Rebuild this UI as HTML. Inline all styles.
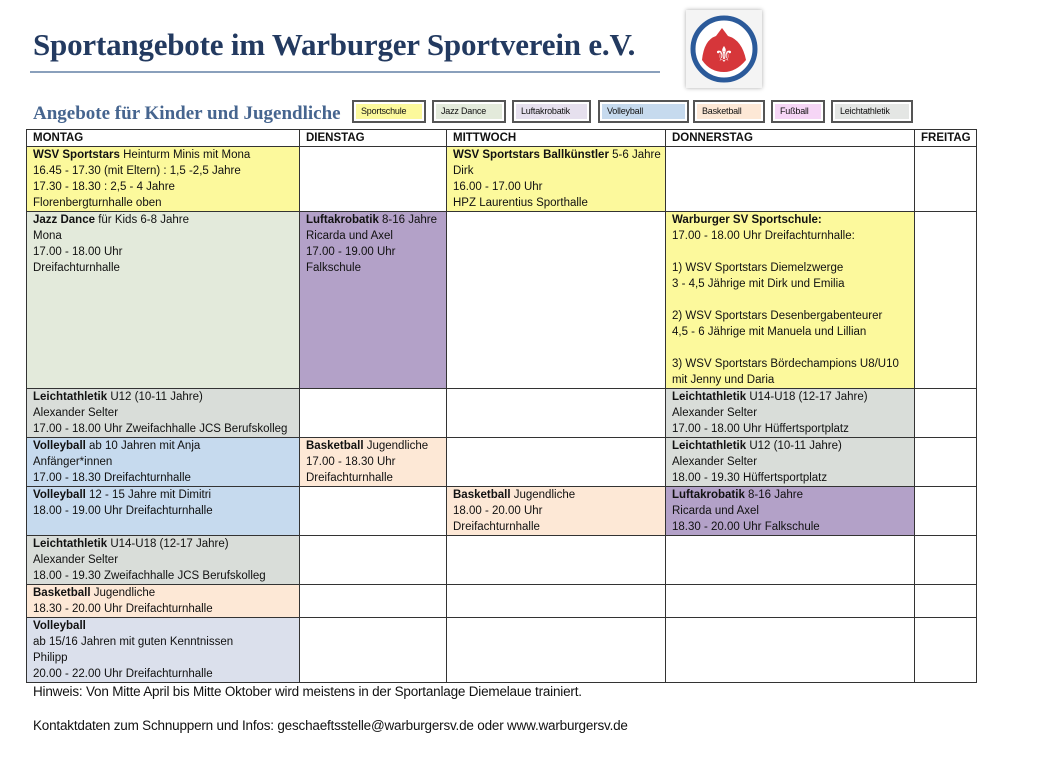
<!DOCTYPE html>
<html><head><meta charset="utf-8"><style>
*{margin:0;padding:0;box-sizing:border-box}
body{width:1049px;height:770px;background:#fff;position:relative;overflow:hidden;font-family:"Liberation Sans",sans-serif;color:#111}
.t{position:absolute;left:33px;top:27px;font-family:"Liberation Serif",serif;font-weight:bold;font-size:31px;color:#233a60;letter-spacing:-0.2px}
.ul{position:absolute;left:30px;top:71px;width:630px;height:2px;background:#8aa0bc}
.st{position:absolute;left:33px;top:103px;font-family:"Liberation Serif",serif;font-weight:bold;font-size:19px;color:#46658f}
.lg{position:absolute;top:100px;height:23px;border:2px solid #555;background:#fff;padding:2px}
.lg span{display:block;height:100%;font-size:9px;line-height:15px;padding-left:5px;letter-spacing:-0.2px}
table{position:absolute;left:26px;top:129px;border-collapse:collapse;table-layout:fixed;width:950px}
td{border:1.5px solid #333;vertical-align:top;font-size:11.5px;line-height:16px;padding:0 0 0 6px;white-space:nowrap;overflow:hidden}
th{border:1.5px solid #333;text-align:left;font-size:11.5px;padding:0 0 0 6px;font-weight:bold;height:17px;line-height:14px}
b{font-weight:bold}
.y{background:#fcf99c}.g{background:#e3eadb}.p{background:#b3a1c8}.bl{background:#c6daee}.o{background:#fde8d6}.gr{background:#d9ddd9}.v{background:#dbe0ec}
.f{position:absolute;left:33px;font-size:13.5px;letter-spacing:-0.2px}
</style></head><body>
<div class="t">Sportangebote im Warburger Sportverein e.V.</div>
<div class="ul"></div>
<div style="position:absolute;left:686px;top:10px;width:76px;height:78px;background:#f4f4f4;box-shadow:0 0 4px #aaa">
<svg width="76" height="78" viewBox="0 0 76 78"><circle cx="38" cy="39" r="31" fill="#fff" stroke="#2b5a9a" stroke-width="5"/><path d="M16 50 Q18 30 30 26 L36 18 L42 26 Q56 30 60 50 Q50 62 38 62 Q24 62 16 50Z" fill="#d6363a"/><text x="38" y="52" font-size="22" fill="#fff" text-anchor="middle">⚜</text></svg></div>
<div class="st">Angebote für Kinder und Jugendliche</div>
<div class="lg" style="left:352px;width:74px"><span style="background:#fcf99c">Sportschule</span></div>
<div class="lg" style="left:432px;width:74px"><span style="background:#e3eadb">Jazz Dance</span></div>
<div class="lg" style="left:512px;width:79px"><span style="background:#e6e0ee">Luftakrobatik</span></div>
<div class="lg" style="left:598px;width:91px"><span style="background:#c6daee">Volleyball</span></div>
<div class="lg" style="left:693px;width:72px"><span style="background:#fde8d6">Basketball</span></div>
<div class="lg" style="left:771px;width:54px"><span style="background:#f6d6f6">Fußball</span></div>
<div class="lg" style="left:831px;width:82px"><span style="background:#e4e6e4">Leichtathletik</span></div>
<table>
<colgroup><col style="width:273px"><col style="width:147px"><col style="width:219px"><col style="width:249px"><col style="width:62px"></colgroup>
<tr><th>MONTAG</th><th>DIENSTAG</th><th>MITTWOCH</th><th>DONNERSTAG</th><th>FREITAG</th></tr>
<tr style="height:64px"><td class="y"><b>WSV Sportstars</b> Heinturm Minis mit Mona<br>16.45 - 17.30 (mit Eltern) : 1,5 -2,5 Jahre<br>17.30 - 18.30 : 2,5 - 4 Jahre<br>Florenbergturnhalle oben</td><td></td><td class="y"><b>WSV Sportstars Ballkünstler</b> 5-6 Jahre<br>Dirk<br>16.00 - 17.00 Uhr<br>HPZ Laurentius Sporthalle</td><td></td><td></td></tr>
<tr style="height:177px"><td class="g"><b>Jazz Dance</b> für Kids 6-8 Jahre<br>Mona<br>17.00 - 18.00 Uhr<br>Dreifachturnhalle</td><td class="p"><b>Luftakrobatik</b> 8-16 Jahre<br>Ricarda und Axel<br>17.00 - 19.00 Uhr<br>Falkschule</td><td></td><td class="y"><b>Warburger SV Sportschule:</b><br>17.00 - 18.00 Uhr Dreifachturnhalle:<br><br>1) WSV Sportstars Diemelzwerge<br>3 - 4,5 Jährige mit Dirk und Emilia<br><br>2) WSV Sportstars Desenbergabenteurer<br>4,5 - 6 Jährige mit Manuela und Lillian<br><br>3) WSV Sportstars Bördechampions U8/U10<br>mit Jenny und Daria</td><td></td></tr>
<tr style="height:48px"><td class="gr"><b>Leichtathletik</b> U12 (10-11 Jahre)<br>Alexander Selter<br>17.00 - 18.00 Uhr Zweifachhalle JCS Berufskolleg</td><td></td><td></td><td class="gr"><b>Leichtathletik</b> U14-U18 (12-17 Jahre)<br>Alexander Selter<br>17.00 - 18.00 Uhr Hüffertsportplatz</td><td></td></tr>
<tr style="height:48px"><td class="bl"><b>Volleyball</b> ab 10 Jahren mit Anja<br>Anfänger*innen<br>17.00 - 18.30 Dreifachturnhalle</td><td class="o"><b>Basketball</b> Jugendliche<br>17.00 - 18.30 Uhr<br>Dreifachturnhalle</td><td></td><td class="gr"><b>Leichtathletik</b> U12 (10-11 Jahre)<br>Alexander Selter<br>18.00 - 19.30 Hüffertsportplatz</td><td></td></tr>
<tr style="height:48px"><td class="bl"><b>Volleyball</b> 12 - 15 Jahre mit Dimitri<br>18.00 - 19.00 Uhr Dreifachturnhalle</td><td></td><td class="o"><b>Basketball</b> Jugendliche<br>18.00 - 20.00 Uhr<br>Dreifachturnhalle</td><td class="p"><b>Luftakrobatik</b> 8-16 Jahre<br>Ricarda und Axel<br>18.30 - 20.00 Uhr Falkschule</td><td></td></tr>
<tr style="height:48px"><td class="gr"><b>Leichtathletik</b> U14-U18 (12-17 Jahre)<br>Alexander Selter<br>18.00 - 19.30 Zweifachhalle JCS Berufskolleg</td><td></td><td></td><td></td><td></td></tr>
<tr style="height:32px"><td class="o"><b>Basketball</b> Jugendliche<br>18.30 - 20.00 Uhr Dreifachturnhalle</td><td></td><td></td><td></td><td></td></tr>
<tr style="height:64px"><td class="v"><b>Volleyball</b><br>ab 15/16 Jahren mit guten Kenntnissen<br>Philipp<br>20.00 - 22.00 Uhr Dreifachturnhalle</td><td></td><td></td><td></td><td></td></tr>
</table>
<div class="f" style="top:684px">Hinweis: Von Mitte April bis Mitte Oktober wird meistens in der Sportanlage Diemelaue trainiert.</div>
<div class="f" style="top:718px">Kontaktdaten zum Schnuppern und Infos: geschaeftsstelle@warburgersv.de oder www.warburgersv.de</div>
</body></html>
